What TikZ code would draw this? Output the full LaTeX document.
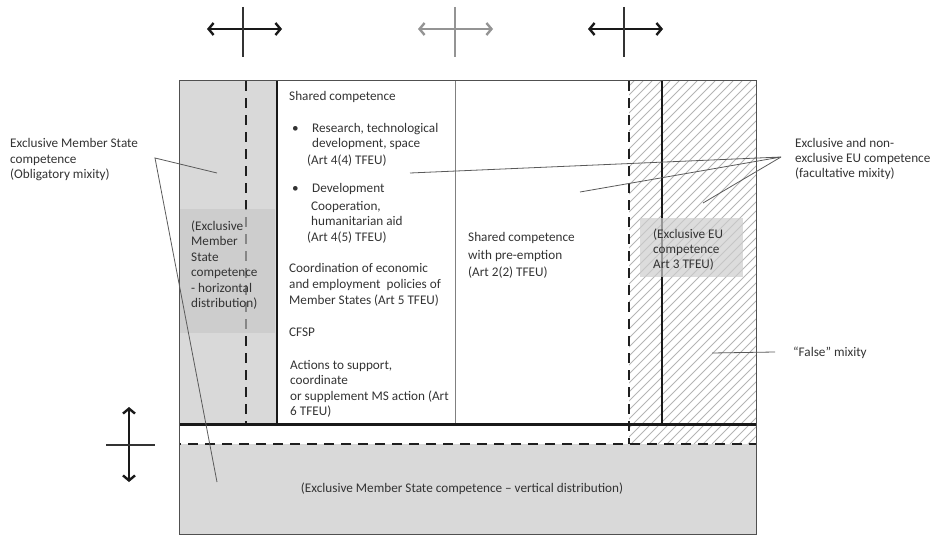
\documentclass[tikz,border=0pt]{standalone}
\usepackage{fontspec}
\setmainfont{Carlito}
\usetikzlibrary{arrows.meta}
\definecolor{txt}{HTML}{333333}
\definecolor{fillA}{HTML}{D9D9D9}
\definecolor{fillB}{HTML}{C6C6C6}
\definecolor{fillC}{HTML}{CDCDCD}
\definecolor{hatchc}{HTML}{B4B4B4}
\definecolor{edge}{HTML}{505050}
\definecolor{leadc}{HTML}{5A5A5A}
\tikzset{
  lbl/.style={anchor=base west, inner sep=0pt, text=txt, align=left},
  dashline/.style={line width=2.5pt, dash pattern=on 10pt off 7pt, draw=black!88},
  thickline/.style={line width=2.2pt, draw=black!90},
  leader/.style={line width=0.8pt, draw=leadc},
  twoarrow/.style={line width=2.4pt, line join=round,
    {Straight Barb[length=5pt,width=12pt]}-{Straight Barb[length=5pt,width=12pt]}},
  crossbar/.style={line width=1.3pt, draw=black!80},
}
\begin{document}
\begin{tikzpicture}[x=1pt,y=-1pt,font=\fontsize{13.2}{15.5}\selectfont]
\useasboundingbox (0,0) rectangle (932,535);

% fills
\fill[fillA] (179,81) rectangle (277,424);
\fill[fillA] (179,444) rectangle (756,534);
\begin{scope}
  \clip (629,81) rectangle (756,444);
  \foreach \i in {0,...,56} {
    \draw[hatchc, line width=1pt] (\i*9+262,444) -- ++(363,-363);
  }
\end{scope}

% structure lines
\draw[line width=0.8pt, draw=black!50] (455,81) -- (455,424);
\draw[thickline] (277,81) -- (277,424);
\draw[thickline] (662,81) -- (662,424);
\draw[dashline] (246,81) -- (246,424);
\draw[dashline] (629,81) -- (629,444);
\draw[line width=3pt, draw=black!90] (179,424) -- (756,424);
\draw[dashline, dash phase=8pt] (179,444) -- (756,444);
\draw[line width=1pt, draw=edge] (179,81) rectangle (756,534);

% translucent boxes over the lines
\fill[fillB, fill opacity=0.62] (180,209) rectangle (275,333);
\fill[fillC, fill opacity=0.7] (640,218) rectangle (743,277);

% top arrows
\coordinate (a1l) at (207,29); \coordinate (a1r) at (282,29);
\coordinate (a1t) at (243,7);  \coordinate (a1b) at (243,57);
\draw[twoarrow, draw=black!90] (a1l) -- (a1r);
\draw[crossbar] (a1t) -- (a1b);
\coordinate (a2l) at (418,29); \coordinate (a2r) at (493,29);
\coordinate (a2t) at (455,7);  \coordinate (a2b) at (455,57);
\draw[twoarrow, draw=black!42] (a2l) -- (a2r);
\draw[crossbar, draw=black!42] (a2t) -- (a2b);
\coordinate (a3l) at (588,29); \coordinate (a3r) at (663,29);
\coordinate (a3t) at (624,7);  \coordinate (a3b) at (624,57);
\draw[twoarrow, draw=black!90] (a3l) -- (a3r);
\draw[crossbar] (a3t) -- (a3b);
% left vertical arrow
\coordinate (v1t) at (129,407); \coordinate (v1b) at (129,482);
\coordinate (v1l) at (106,445); \coordinate (v1r) at (155,445);
\draw[twoarrow, draw=black!90] (v1t) -- (v1b);
\draw[crossbar] (v1l) -- (v1r);

% texts (multi-line nodes: base anchor = baseline of last line)
\node[lbl] (oblig) at (10,178.5) {Exclusive Member State\\competence\\(Obligatory mixity)};
\node[lbl, font=\fontsize{13.2}{15.4}\selectfont] (horiz) at (191,307.5) {(Exclusive\\Member\\State\\competence\\- horizontal\\distribution)};
\node[lbl] (shared) at (289,100.5) {Shared competence};
\node[lbl] (bul1) at (292,132.5) {•};
\node[lbl, font=\fontsize{13.2}{14.5}\selectfont] (res) at (312,147) {Research, technological\\development, space};
\node[lbl] (art44) at (307,164.5) {(Art 4(4) TFEU)};
\node[lbl] (bul2) at (292,192.5) {•};
\node[lbl] (dev) at (312,192.5) {Development};
\node[lbl, font=\fontsize{13.2}{15}\selectfont] (coop) at (311,225.5) {Cooperation,\\humanitarian aid};
\node[lbl] (art45) at (307,241.5) {(Art 4(5) TFEU)};
\node[lbl, font=\fontsize{13.2}{16}\selectfont] (coord) at (289,304.5) {Coordination of economic\\and employment\ \ policies of\\Member States (Art 5 TFEU)};
\node[lbl] (cfsp) at (289,336.5) {CFSP};
\node[lbl] (actions) at (290,415.5) {Actions to support,\\coordinate\\or supplement MS action (Art\\6 TFEU)};
\node[lbl, font=\fontsize{13.2}{17.5}\selectfont] (preempt) at (468,276.5) {Shared competence\\with pre-emption\\(Art 2(2) TFEU)};
\node[lbl, font=\fontsize{13.2}{15}\selectfont] (excleu) at (653,268.5) {(Exclusive EU\\competence\\Art 3 TFEU)};
\node[lbl, font=\fontsize{13.2}{15}\selectfont] (facult) at (795,177.5) {Exclusive and non-\\exclusive EU competence\\(facultative mixity)};
\node[lbl] (false) at (793,356.5) {“False” mixity};
\node[anchor=base, inner sep=0pt, text=txt] (vert) at (462,492) {(Exclusive Member State competence – vertical distribution)};

% leader lines
\coordinate (oblA) at (155,158);
\coordinate (oblE1) at (217,173);
\coordinate (oblE2) at (217,482);
\draw[leader] (oblE1) -- (oblA) -- (oblE2);
\coordinate (facA) at (781,157);
\coordinate (facE1) at (410,173);
\coordinate (facE2) at (580,192);
\coordinate (facE3) at (703,203);
\draw[leader] (facE1) -- (facA) -- (facE2);
\draw[leader] (facA) -- (facE3);
\coordinate (falA) at (775,352);
\coordinate (falE) at (712,353);
\draw[leader] (falA) -- (falE);
\end{tikzpicture}
\end{document}
